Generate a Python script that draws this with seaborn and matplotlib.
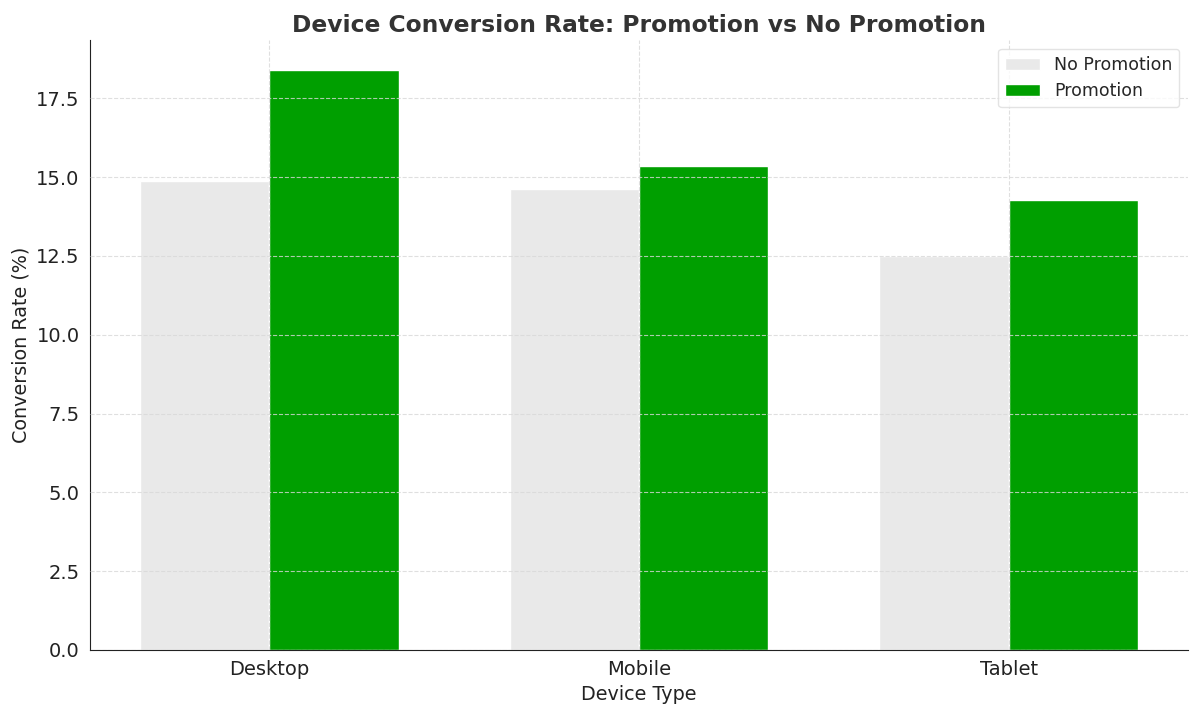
import matplotlib
matplotlib.use("Agg")
import matplotlib.pyplot as plt
import seaborn as sns
import pandas as pd

# Conversion rate (%) by device type
devices = ["Desktop", "Mobile", "Tablet"]
no_promo = [14.87, 14.61, 12.49]
promo = [18.40, 15.34, 14.26]

df = pd.DataFrame({
    "Device Type": devices * 2,
    "Group": ["No Promotion"] * 3 + ["Promotion"] * 3,
    "Rate": no_promo + promo,
})

sns.set_style("white")
plt.rcParams["font.family"] = ["DejaVu Sans"]

fig, ax = plt.subplots(figsize=(12, 7.15), dpi=100)
sns.barplot(data=df, x="Device Type", y="Rate", hue="Group",
            palette={"No Promotion": "#e9e9e9", "Promotion": "#009f00"},
            width=0.7, gap=0, saturation=1, errorbar=None, ax=ax)

ax.set_xlim(-0.485, 2.485)
ax.set_ylim(0, 19.35)
ax.set_title("Device Conversion Rate: Promotion vs No Promotion",
             fontsize=16.8, fontweight="bold", color="#333333")
ax.set_xlabel("Device Type", fontsize=13.8, color="#222222")
ax.set_ylabel("Conversion Rate (%)", fontsize=13.8, color="#222222")
ax.tick_params(axis="both", labelsize=14, length=4, colors="#222222")
ax.grid(True, linestyle="--", color="#d8d8d8", linewidth=0.8, alpha=0.8)
ax.set_axisbelow(False)
sns.despine(ax=ax)
for s in ["left", "bottom"]:
    ax.spines[s].set_color("#222222")

leg = ax.legend(loc="upper right", fontsize=12.5, title=None)
leg.get_frame().set_edgecolor("#dddddd")

fig.subplots_adjust(left=0.075, right=0.99, top=0.944, bottom=0.091)
fig.savefig("out.png", dpi=100)
